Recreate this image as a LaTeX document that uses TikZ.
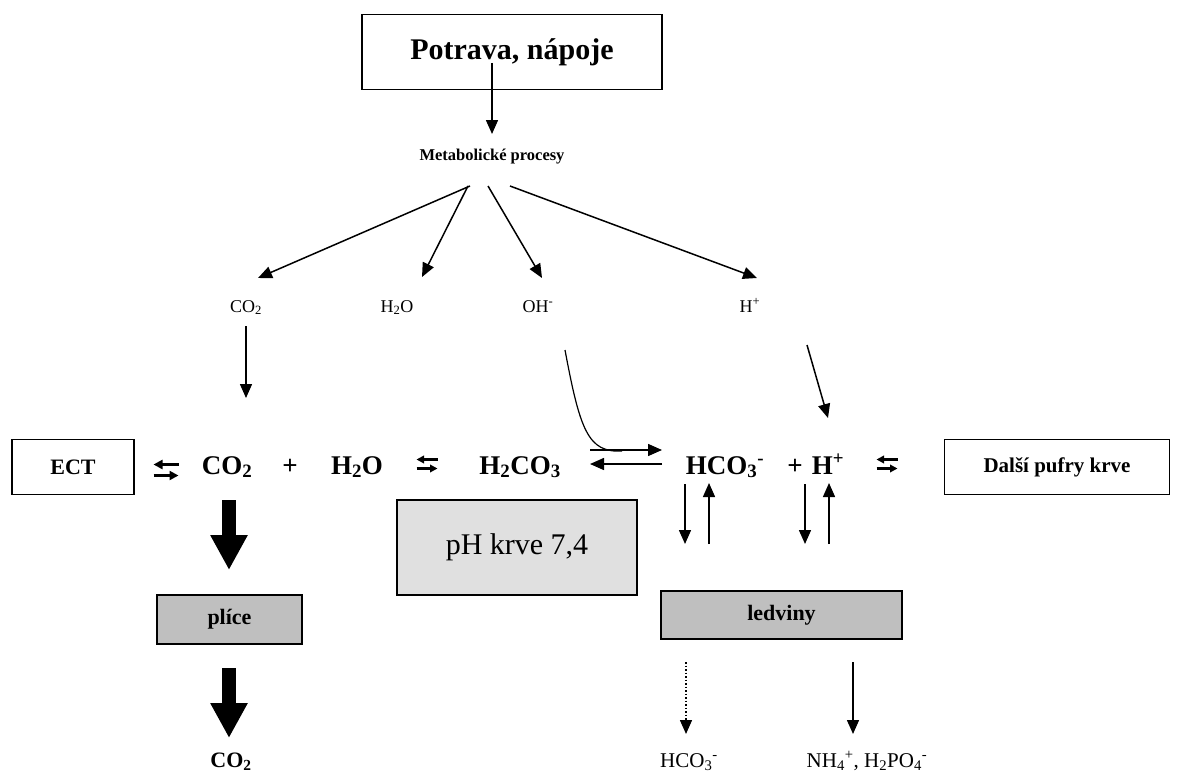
\documentclass[tikz,border=0pt]{standalone}
\usepackage{fontspec}
\setmainfont{Liberation Serif}
\usetikzlibrary{arrows.meta}
\tikzset{
  lbl/.style={font=\fontsize{18}{20}\selectfont, inner sep=0pt, anchor=base},
  blbl/.style={font=\fontsize{21}{23}\selectfont, inner sep=0pt, anchor=base},
  eq/.style={font=\bfseries\fontsize{27}{30}\selectfont, inner sep=0pt, anchor=base},
  boxw/.style={draw, line width=1.5pt, fill=white, inner sep=0pt, font=\bfseries\fontsize{22}{24}\selectfont},
  boxg/.style={boxw, fill=black!25},
  arr/.style={-{Triangle[length=14pt,width=12pt]}, line width=1.5pt},
  fat/.style={-{Triangle[length=35pt,width=35pt]}, line width=14pt},
  pics/eqrl/.style n args={4}{code={
    \draw[line width=#3, -{Triangle[length=#4,width=#4]}] (#1/2,-#2) -- (-#1/2,-#2);
    \draw[line width=#3, -{Triangle[length=#4,width=#4]}] (-#1/2,#2) -- (#1/2,#2);
  }},
}
\begin{document}
\begin{tikzpicture}[x=1pt,y=-1pt]
\useasboundingbox (0,0) rectangle (1180,776);
% top
\node[boxw, minimum width=300pt, minimum height=75pt, font=\bfseries\fontsize{30}{32}\selectfont] (potrava) at (512,52) {Potrava, nápoje};
\node[font=\bfseries\fontsize{16.5}{18}\selectfont, inner sep=0pt] (metab) at (492,157) {Metabolické procesy};
\coordinate (p0) at (492,63);
\coordinate (p1) at (492,134);
\draw[arr] (p0) -- (p1);
% products
\node[lbl] (lco2) at (246,312) {CO\textsubscript{2}};
\node[lbl] (lh2o) at (397,312) {H\textsubscript{2}O};
\node[lbl] (loh) at (538,312) {OH\textsuperscript{-}};
\node[lbl] (lh) at (750,312) {H\textsuperscript{+}};
\coordinate (s1) at (470,186);
\coordinate (s2) at (468,186);
\coordinate (s3) at (488,186);
\coordinate (s4) at (510,186);
\coordinate (t1) at (258,278);
\coordinate (t2) at (422,277);
\coordinate (t3) at (542,278);
\coordinate (t4) at (757,278);
\draw[arr] (s1) -- (t1);
\draw[arr] (s2) -- (t2);
\draw[arr] (s3) -- (t3);
\draw[arr] (s4) -- (t4);
% equation row
\node[boxw, minimum width=122pt, minimum height=55pt] (ect) at (73,467) {ECT};
\pic (r1) at (166,470) {eqrl={25}{5.5}{3pt}{9pt}};
\node[eq] (co2) at (227,474) {CO\textsubscript{2}};
\node[eq] (plus1) at (290,474) {+};
\node[eq] (h2o) at (357,474) {H\textsubscript{2}O};
\pic (r2) at (427,464) {eqrl={21}{4.5}{2.2pt}{7.5pt}};
\node[eq] (h2co3) at (520,474) {H\textsubscript{2}CO\textsubscript{3}};
\node[eq] (hco3) at (725,474) {HCO\textsubscript{3}\textsuperscript{-}};
\node[eq] (plus2) at (795,474) {+};
\node[eq] (hp) at (828,474) {H\textsuperscript{+}};
\pic (r3) at (887,464) {eqrl={21}{4.5}{2.2pt}{7.5pt}};
\node[boxw, minimum width=225pt, minimum height=55pt, font=\bfseries\fontsize{21}{23}\selectfont] (dalsi) at (1057,467) {Další pufry krve};
% co2 arrow
\coordinate (c0) at (246,326);
\coordinate (c1) at (246,398);
\draw[arr] (c0) -- (c1);
% double arrow
\coordinate (da1) at (590,450);
\coordinate (da2) at (662,450);
\coordinate (db1) at (662,464);
\coordinate (db2) at (590,464);
\draw[arr] (da1) -- (da2);
\draw[arr] (db1) -- (db2);
% OH- curve
\coordinate (oh0) at (565,350);
\coordinate (oh1) at (622,451);
\draw[line width=1.2pt] (oh0) .. controls (580,430) and (588,453) .. (oh1);
% H+ arrow
\coordinate (h0) at (807,345);
\coordinate (h1) at (828,418);
\draw[arr] (h0) -- (h1);
% lungs
\coordinate (f0) at (229,500);
\coordinate (f1) at (229,570);
\draw[fat] (f0) -- (f1);
\node[boxg, minimum width=145pt, minimum height=49pt] (plice) at (229.5,619.5) {plíce};
\coordinate (f2) at (229,668);
\coordinate (f3) at (229,738);
\draw[fat] (f2) -- (f3);
\node[font=\bfseries\fontsize{22}{24}\selectfont, inner sep=0pt, anchor=base] (co2out) at (231,767) {CO\textsubscript{2}};
% pH
\node[draw, line width=1.5pt, fill=black!12, minimum width=240pt, minimum height=95pt, inner sep=0pt, font=\fontsize{30}{32}\selectfont] (ph) at (517,547.5) {pH krve 7,4};
% kidneys
\node[boxg, minimum width=241pt, minimum height=48pt] (ledviny) at (781.5,615) {ledviny};
\coordinate (v1a) at (685,484); \coordinate (v1b) at (685,544);
\coordinate (v2a) at (709,544); \coordinate (v2b) at (709,483);
\coordinate (v3a) at (805,484); \coordinate (v3b) at (805,544);
\coordinate (v4a) at (829,544); \coordinate (v4b) at (829,483);
\draw[arr] (v1a) -- (v1b);
\draw[arr] (v2a) -- (v2b);
\draw[arr] (v3a) -- (v3b);
\draw[arr] (v4a) -- (v4b);
\node[blbl] (bhco3) at (689,767) {HCO\textsubscript{3}\textsuperscript{-}};
\node[blbl] (bnh4) at (867,767) {NH\textsubscript{4}\textsuperscript{+}, H\textsubscript{2}PO\textsubscript{4}\textsuperscript{-}};
\coordinate (k1) at (686,662);
\coordinate (k1e) at (686,734);
\coordinate (k2) at (853,662);
\coordinate (k2e) at (853,734);
\draw[arr, dotted] (k1) -- (k1e);
\draw[arr] (k2) -- (k2e);
\end{tikzpicture}
\end{document}
